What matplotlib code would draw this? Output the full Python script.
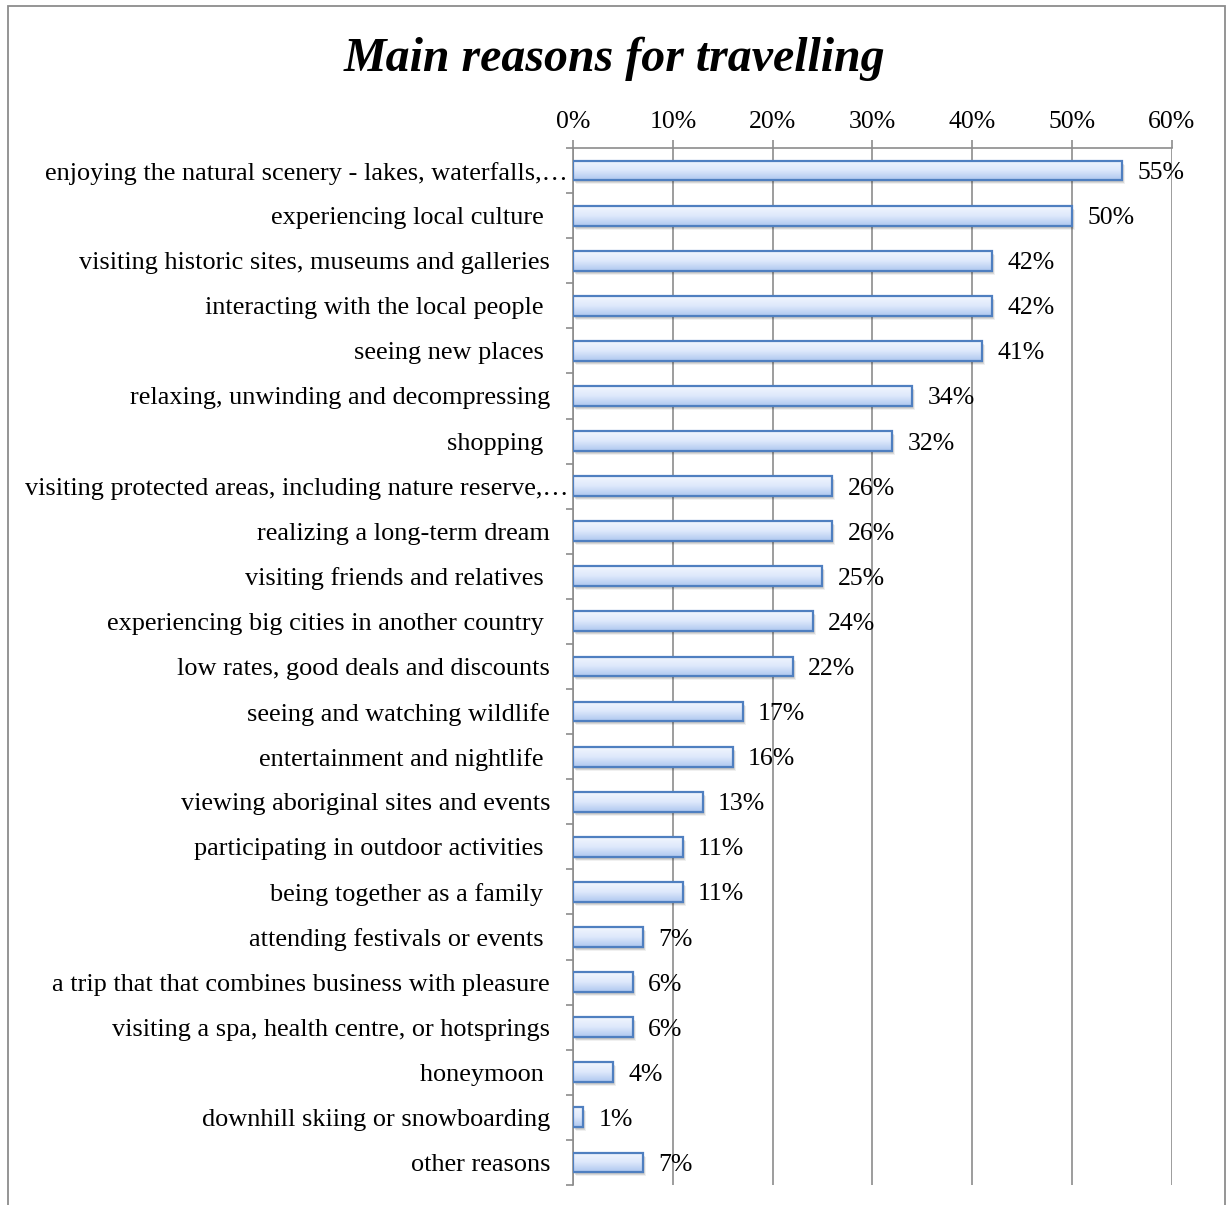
import numpy as np
import matplotlib
matplotlib.use("Agg")
import matplotlib.pyplot as plt
from matplotlib.patches import Rectangle
from matplotlib.colors import LinearSegmentedColormap
import matplotlib.transforms as mtransforms

reasons = [
    "enjoying the natural scenery - lakes, waterfalls,\u2026",
    "experiencing local culture ",
    "visiting historic sites, museums and galleries",
    "interacting with the local people ",
    "seeing new places ",
    "relaxing, unwinding and decompressing",
    "shopping ",
    "visiting protected areas, including nature reserve,\u2026",
    "realizing a long-term dream",
    "visiting friends and relatives ",
    "experiencing big cities in another country ",
    "low rates, good deals and discounts",
    "seeing and watching wildlife",
    "entertainment and nightlife ",
    "viewing aboriginal sites and events",
    "participating in outdoor activities ",
    "being together as a family ",
    "attending festivals or events ",
    "a trip that that combines business with pleasure",
    "visiting a spa, health centre, or hotsprings",
    "honeymoon ",
    "downhill skiing or snowboarding",
    "other reasons",
]
shares = [55, 50, 42, 42, 41, 34, 32, 26, 26, 25, 24, 22, 17, 16, 13, 11, 11, 7, 6, 6, 4, 1, 7]
x_ticks = [0, 10, 20, 30, 40, 50, 60]

plt.rcParams["font.family"] = ["Liberation Serif", "DejaVu Serif"]

fig = plt.figure(figsize=(12.27, 12.05), dpi=100)
ax = fig.add_axes([0.467, 0.0166, 0.488, 0.8606])

# outer frame round the whole chart
fig.patches.append(Rectangle((0.0065, -0.05), 0.992, 1.045, transform=fig.transFigure,
                             fill=False, edgecolor="#8c8c8c", linewidth=1.3))

y = np.arange(len(reasons))
h = 0.44
grad = LinearSegmentedColormap.from_list("barfill", ["#f2f6fe", "#dde8fb", "#aec7ef"])
ramp = np.linspace(0, 1, 64).reshape(-1, 1)

# soft drop shadow under each bar
for dx, dy, a in [(2, -3, 0.10), (3, -4, 0.06), (1, -2, 0.08)]:
    shadow_tr = mtransforms.offset_copy(ax.transData, fig=fig, x=dx, y=dy, units="dots")
    ax.barh(y, shares, height=h, color="#000000", alpha=a, transform=shadow_tr,
            zorder=1.5, linewidth=0)

for yi, v in zip(y, shares):
    ax.imshow(ramp, cmap=grad, aspect="auto", extent=[0, v, yi + h / 2, yi - h / 2],
              zorder=2, interpolation="bilinear")
ax.barh(y, shares, height=h, color="none", edgecolor="#4f7fc0", linewidth=1.6, zorder=3)

for yi, v in zip(y, shares):
    ax.annotate(f"{v}%", (v, yi), xytext=(11, 0), textcoords="offset points",
                va="center_baseline", ha="left", fontsize=18.5, color="black")

# category names, right-aligned against the axis; truncated ones sit closer
for yi, name in zip(y, reasons):
    off = -3.5 if name.endswith("\u2026") else -16.5
    ax.annotate(name, (0, yi), xycoords=("axes fraction", "data"), xytext=(off, 0),
                textcoords="offset points", ha="right", va="center_baseline",
                fontsize=18.9, color="black")

ax.set_xlim(0, 60)
ax.set_ylim(len(reasons) - 0.5, -0.5)

ax.xaxis.tick_top()
ax.set_xticks(x_ticks)
ax.set_xticklabels([f"{t}%" for t in x_ticks], fontsize=18.5)
ax.tick_params(axis="x", length=6, width=1.2, color="#8c8c8c", pad=5)
ax.grid(axis="x", color="#8c8c8c", linewidth=1.2, zorder=0)
ax.set_axisbelow(True)

ax.set_yticks(y)
ax.set_yticklabels([])
ax.tick_params(axis="y", which="major", length=0)
ax.set_yticks(np.arange(len(reasons) + 1) - 0.5, minor=True)
ax.tick_params(axis="y", which="minor", length=5, width=1.2, color="#8c8c8c")

for side in ["right", "bottom"]:
    ax.spines[side].set_visible(False)
for side in ["top", "left"]:
    ax.spines[side].set_color("#8c8c8c")
    ax.spines[side].set_linewidth(1.2)

fig.text(0.501, 0.951, "Main reasons for travelling", ha="center", va="center",
         fontsize=34.5, fontweight="bold", fontstyle="italic")

fig.savefig("out.png", dpi=100)
